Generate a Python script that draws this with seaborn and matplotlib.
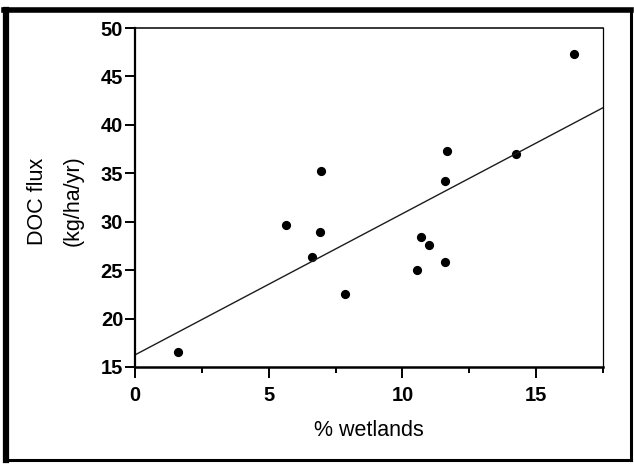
import numpy as np
import pandas as pd
import matplotlib
matplotlib.use("Agg")
import matplotlib.pyplot as plt
from matplotlib.lines import Line2D
from matplotlib.ticker import MultipleLocator
import seaborn as sns

# Catchment wetland cover (%) and dissolved organic carbon export
wetlands_pct = [1.6, 5.65, 6.6, 6.9, 6.97, 7.85, 10.55, 10.7, 11.0, 11.6, 11.58, 11.65, 14.23, 16.4]
doc_flux = [16.6, 29.7, 26.4, 28.9, 35.2, 22.5, 25.0, 28.4, 27.6, 25.8, 34.2, 37.3, 36.95, 47.3]

x_ticks = [0, 5, 10, 15]
y_ticks = [15, 20, 25, 30, 35, 40, 45, 50]
x_label = "% wetlands"
y_label = "DOC flux\n(kg/ha/yr)"

df = pd.DataFrame({"wetlands": wetlands_pct, "doc": doc_flux})

sns.set_style("ticks")
plt.rcParams["font.family"] = ["Liberation Sans", "DejaVu Sans"]
plt.rcParams["text.color"] = "black"
plt.rcParams["axes.labelcolor"] = "black"

W, H = 634, 466
fig = plt.figure(figsize=(W / 100, H / 100), dpi=100)
ax = fig.add_axes([135 / W, 1 - 367 / H, (603 - 135) / W, (367 - 28) / H])
ax.set_xlim(0, 17.5)
ax.set_ylim(15, 50)

sns.regplot(
    data=df, x="wetlands", y="doc", ax=ax, ci=None, truncate=False,
    color="black",
    scatter_kws=dict(s=44, alpha=1, linewidths=0, color="black"),
    line_kws=dict(color="#1c1c1c", lw=1.0),
)
ax.set_xlim(0, 17.5)
ax.set_ylim(15, 50)

ax.set_xticks(x_ticks)
ax.set_yticks(y_ticks)
ax.xaxis.set_minor_locator(MultipleLocator(2.5))

ax.tick_params(axis="both", which="major", direction="out", color="black",
               width=1.4, labelsize=14.5, labelcolor="black")
ax.tick_params(axis="x", which="major", length=8, pad=6)
ax.tick_params(axis="y", which="major", length=7, pad=1.5)
ax.tick_params(axis="x", which="minor", direction="out", length=4, width=1.4, color="black")
for lab in ax.get_xticklabels() + ax.get_yticklabels():
    lab.set_fontweight("bold")

for side, lw in {"left": 1.6, "bottom": 1.8, "top": 1.1, "right": 0.9}.items():
    ax.spines[side].set_visible(True)
    ax.spines[side].set_color("black")
    ax.spines[side].set_linewidth(lw)

ax.set_xlabel(x_label, fontsize=15.5, va="top", color="black")
ax.xaxis.set_label_coords(0.5, -0.155)
ax.set_ylabel(y_label, fontsize=15.5, va="center", ha="center",
              linespacing=1.9, color="black")
ax.yaxis.set_label_coords(-0.171, 0.49)

# Heavy frame around the whole figure
def px_line(x0, y0, x1, y1, lw):
    fig.add_artist(Line2D([x0 / W, x1 / W], [1 - y0 / H, 1 - y1 / H],
                          transform=fig.transFigure, color="black", lw=lw,
                          solid_capstyle="projecting"))

px_line(4, 10, 631, 10, 4.0)
px_line(6, 10, 6, 460, 4.5)
px_line(631, 10, 631, 460, 2.2)
px_line(6, 460, 631, 460, 2.2)

fig.savefig("out.png", dpi=100)
